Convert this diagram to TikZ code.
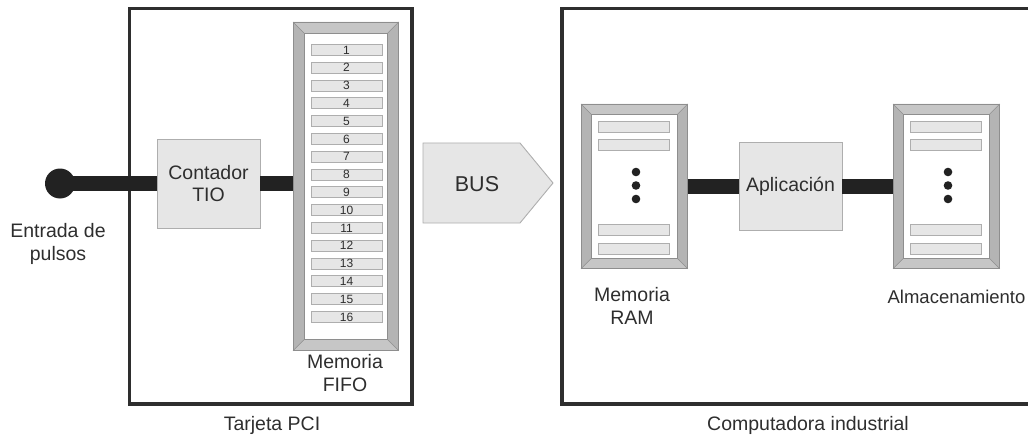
\documentclass[tikz,border=0pt]{standalone}
\usepackage{fontspec}
\setmainfont{Liberation Sans}
\usetikzlibrary{calc}
\definecolor{ink}{HTML}{2E2E2E}
\definecolor{wire}{HTML}{222222}
\definecolor{boxfill}{HTML}{E6E6E6}
\definecolor{boxline}{HTML}{AEAEAE}
\definecolor{bevside}{HTML}{B4B4B4}
\definecolor{bevtop}{HTML}{C6C6C6}
\definecolor{bevline}{HTML}{8E8E8E}
\tikzset{
  txt/.style={text=ink, font=\fontsize{19.5}{22.5}\selectfont, align=center, inner sep=0pt},
  container/.style={draw=ink, line width=3.6pt, inner sep=0pt},
  block/.style={draw=boxline, fill=boxfill, line width=0.9pt, inner sep=0pt, text=ink,
    font=\fontsize{19.5}{22.5}\selectfont, align=center},
  slot/.style={draw=boxline, fill=boxfill, line width=0.9pt, inner sep=0pt,
    minimum width=71pt, minimum height=11pt, text=ink, font=\fontsize{12}{12}\selectfont},
  wirepath/.style={draw=wire, line width=15pt},
  frame/.style={draw=bevline, fill=bevside, line width=0.8pt, inner sep=0pt},
}
% bevelled memory frame: name, top-left corner, width, height, bevel size
\newcommand\bevelbox[5]{%
  \node[frame, anchor=north west, minimum width=#3pt, minimum height=#4pt] (#1) at #2 {};
  \fill[bevtop] (#1.north west) -- (#1.north east) -- ([shift={(-#5,#5)}]#1.north east)
     -- ([shift={(#5,#5)}]#1.north west) -- cycle;
  \fill[bevtop] (#1.south west) -- (#1.south east) -- ([shift={(-#5,-#5)}]#1.south east)
     -- ([shift={(#5,-#5)}]#1.south west) -- cycle;
  \draw[bevline, line width=0.6pt]
     (#1.north west) -- ([shift={(#5,#5)}]#1.north west)
     (#1.north east) -- ([shift={(-#5,#5)}]#1.north east)
     (#1.south west) -- ([shift={(#5,-#5)}]#1.south west)
     (#1.south east) -- ([shift={(-#5,-#5)}]#1.south east);
  \draw[fill=white, draw=bevline, line width=0.8pt]
     ([shift={(#5,#5)}]#1.north west) rectangle ([shift={(-#5,-#5)}]#1.south east);
  \draw[bevline, line width=0.8pt] (#1.north west) rectangle (#1.south east);
}
\begin{document}
\begin{tikzpicture}[x=1pt, y=-1pt]
\useasboundingbox (0,0) rectangle (1028,441);

% outer enclosures
\node[container, minimum width=282.5pt, minimum height=395.5pt] (pci) at (270.75,206.25) {};
\node[container, minimum width=472pt, minimum height=395.5pt] (pc) at (798,206.25) {};
\node[txt] (pcilbl) at (272,425) {Tarjeta PCI};
\node[txt] (pclbl) at (808,425) {Computadora industrial};

% pulse input
\node[circle, fill=wire, minimum size=30pt, inner sep=0pt] (in) at (60,183.5) {};
\node[txt] (inlbl) at (58,244) {Entrada de\\pulsos};

% counter
\node[block, minimum width=103pt, minimum height=89pt] (tio) at (208.5,183.5) {Contador\\TIO};

% FIFO memory
\bevelbox{fifo}{(293,22)}{105}{328}{11}
\foreach \i in {1,...,16}
  \node[slot] (f\i) at (346.5,{50+(\i-1)*17.8}) {\i};
\node[txt] (fifolbl) at (345,373) {Memoria\\FIFO};

% wires inside the card
\draw[wirepath] (in.center) -- (tio.west);
\draw[wirepath] (tio.east) -- (tio.east -| fifo.west);

% bus arrow
\draw[draw=boxline, fill=boxfill, line width=0.9pt]
  (423,143) -- (520,143) -- (553,183) -- (520,223) -- (423,223) -- cycle;
\node[text=ink, font=\fontsize{21.5}{24}\selectfont, inner sep=0pt] (bus) at (477,184) {BUS};

% RAM and storage
\bevelbox{ram}{(581,104)}{106}{164}{10}
\bevelbox{sto}{(893,104)}{106}{164}{10}
\foreach \m/\cx/\dx in {ram/633.5/636, sto/945.5/948} {
  \foreach \yy in {127,145,230,248.5}
    \node[slot] at (\cx,\yy) {};
  \foreach \yy in {172,185.5,199}
    \fill[wire] (\dx,\yy) circle (4.3);
}
\node[txt] (ramlbl) at (632,306) {Memoria\\RAM};
\node[txt, font=\fontsize{18.5}{21}\selectfont] (stolbl) at (956.5,297) {Almacenamiento};

% application
\node[block, minimum width=103pt, minimum height=88pt] (app) at (790.5,186) {Aplicación};
\draw[wirepath] (app.west -| ram.east) -- (app.west);
\draw[wirepath] (app.east) -- (app.east -| sto.west);
\end{tikzpicture}
\end{document}
